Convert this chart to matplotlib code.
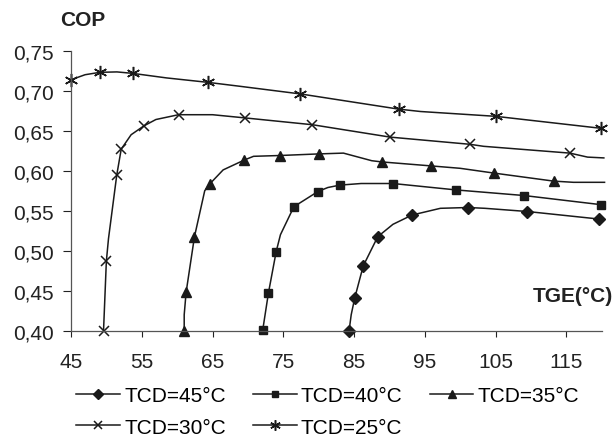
import matplotlib
matplotlib.use("Agg")
import matplotlib.pyplot as plt

plt.rcParams['font.family'] = ['Liberation Sans', 'DejaVu Sans']

# curve points; mk_* = indices that carry a marker
x45 = [84.3, 84.6, 85.1, 86.3, 88.35, 90.5, 93.2, 97.2, 101.1, 103.5, 109.5, 119.6]
y45 = [0.400, 0.420, 0.441, 0.481, 0.5175, 0.533, 0.5446, 0.553, 0.554, 0.553, 0.549, 0.5396]
mk45 = [0, 2, 3, 4, 6, 8, 10, 11]

x40 = [72.1, 72.9, 74.0, 74.6, 76.5, 79.9, 81.3, 83.0, 86.0, 90.5, 99.4, 109.0, 119.95]
y40 = [0.401, 0.447, 0.499, 0.520, 0.555, 0.574, 0.579, 0.582, 0.584, 0.584, 0.576, 0.569, 0.5575]
mk40 = [0, 1, 2, 4, 5, 7, 9, 10, 11, 12]

x35 = [61.0, 61.0, 61.27, 62.45, 63.9, 64.67, 66.5, 69.5, 70.8, 74.5, 80.0, 83.5, 87.5,
       88.9, 95.9, 100.0, 104.8, 113.2, 116.0, 120.4]
y35 = [0.400, 0.420, 0.448, 0.5175, 0.575, 0.584, 0.601, 0.6134, 0.618, 0.619, 0.621, 0.622,
       0.6125, 0.611, 0.606, 0.603, 0.597, 0.587, 0.5855, 0.5855]
mk35 = [0, 2, 3, 5, 7, 9, 10, 13, 14, 16, 17]

x30 = [49.6, 50.0, 50.3, 51.47, 52.1, 53.5, 55.3, 57.0, 60.2, 65.0, 69.6, 79.1, 90.1,
       101.4, 103.3, 115.5, 118.0, 120.3]
y30 = [0.400, 0.487, 0.515, 0.5946, 0.627, 0.645, 0.656, 0.664, 0.670, 0.670, 0.666, 0.6575,
       0.642, 0.633, 0.6305, 0.622, 0.617, 0.616]
mk30 = [0, 1, 3, 4, 6, 8, 10, 11, 12, 13, 15]

x25 = [45.0, 47.0, 49.1, 51.5, 53.7, 58.5, 64.3, 68.9, 77.4, 91.3, 94.4, 105.0, 119.9]
y25 = [0.7137, 0.720, 0.723, 0.7235, 0.7217, 0.716, 0.7105, 0.7055, 0.696, 0.677, 0.674,
       0.668, 0.653]
mk25 = [0, 2, 4, 6, 8, 9, 11, 12]

labels = ['TCD=45°C', 'TCD=40°C', 'TCD=35°C', 'TCD=30°C', 'TCD=25°C']
xticks = [45, 55, 65, 75, 85, 95, 105, 115]
yticks = [0.40, 0.45, 0.50, 0.55, 0.60, 0.65, 0.70, 0.75]

fs = 15
fig = plt.figure(figsize=(6.14, 4.39), dpi=100)
ax = fig.add_axes([0.1156, 0.2444, 0.8644, 0.6378])

series = [
    (x45, y45, mk45, dict(marker='D', markersize=6.5)),
    (x40, y40, mk40, dict(marker='s', markersize=6)),
    (x35, y35, mk35, dict(marker='^', markersize=7.5)),
    (x30, y30, mk30, dict(marker='x', markersize=7.5, markeredgewidth=1.1)),
    (x25, y25, mk25, dict(marker=(6, 2, 0), markersize=9.5, markeredgewidth=1.1)),
]
handles = []
for (xs, ys, mk, st), lab in zip(series, labels):
    h, = ax.plot(xs, ys, color='#1a1a1a', lw=1.1, markevery=mk, clip_on=False,
                 markerfacecolor='#1a1a1a', markeredgecolor='#1a1a1a', label=lab, **st)
    handles.append(h)

ax.set_xlim(45, 120)
ax.set_ylim(0.40, 0.75)
ax.set_xticks(xticks)
ax.set_yticks(yticks)
ax.set_yticklabels([f"{v:.2f}".replace('.', ',') for v in yticks])
ax.tick_params(axis='x', length=4, width=0.8, pad=11, labelsize=fs, colors='#222222',
               direction='out')
ax.tick_params(axis='y', length=5.5, width=0.8, pad=7, labelsize=fs, colors='#222222',
               direction='out')
for s in ['top', 'right']:
    ax.spines[s].set_visible(False)
for s in ['left', 'bottom']:
    ax.spines[s].set_color('#555555')
    ax.spines[s].set_linewidth(0.9)

fig.text(0.098, 0.953, 'COP', fontsize=fs, fontweight='bold', ha='left', va='center',
         color='#222222')
fig.text(0.999, 0.324, 'TGE(°C)', fontsize=fs, fontweight='bold', ha='right', va='center',
         color='#222222')

order = [0, 3, 1, 4, 2]
fig.legend([handles[i] for i in order], [labels[i] for i in order], ncol=3,
           loc='upper left', bbox_to_anchor=(0.124, 0.118), frameon=False,
           fontsize=fs, handlelength=2.1, handletextpad=0.2, columnspacing=1.3,
           labelspacing=0.6, borderpad=0, borderaxespad=0, markerscale=0.8)

fig.savefig('out.png', dpi=100)
